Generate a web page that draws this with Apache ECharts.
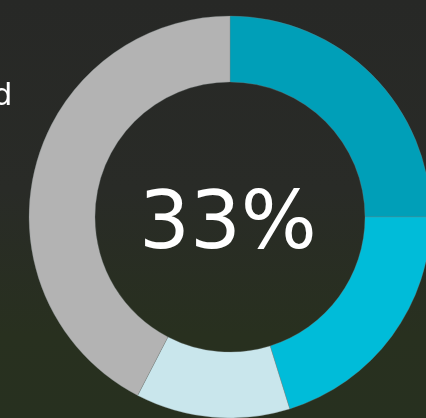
<!DOCTYPE html>
<html>
<head>
<meta charset="utf-8">
<script src="https://cdn.jsdelivr.net/npm/echarts@6/dist/echarts.min.js"></script>
<style>
  html, body { margin: 0; padding: 0; }
  #chart {
    width: 426px;
    height: 418px;
    background: linear-gradient(180deg, #272826 0%, #292b27 45%, #28301f 80%, #27301f 100%);
  }
</style>
</head>
<body>
<div id="chart"></div>
<script>
// donut segments, clockwise from 12 o'clock
var names = ['Done', 'In progress', 'Review', 'Remaining'];
var values = [25, 20.2, 12.4, 42.4];
var colors = ['#009fb8', '#00bcd9', '#c9e6ec', '#b3b3b3'];
var centerLabel = '33%';
var sideLabel = 'Completed';

var myChart = echarts.init(document.getElementById('chart'));

var option = {
  backgroundColor: 'transparent',
  animation: false,
  graphic: [
    {
      type: 'text',
      left: 139,
      top: 187,
      style: {
        text: centerLabel,
        fill: '#ffffff',
        font: '80px "DejaVu Sans"'
      }
    },
    {
      type: 'text',
      x: 12.5,
      y: 112,
      style: {
        text: sideLabel,
        fill: '#ffffff',
        font: '31px "DejaVu Sans"',
        textAlign: 'right',
        textVerticalAlign: 'bottom'
      }
    }
  ],
  series: [
    {
      type: 'pie',
      center: [230, 217],
      radius: [135, 201],
      startAngle: 90,
      clockwise: true,
      silent: true,
      label: { show: false },
      labelLine: { show: false },
      itemStyle: {
        borderColor: 'rgba(120,130,130,0.6)',
        borderWidth: 0.5
      },
      data: names.map(function (n, i) {
        return { name: n, value: values[i], itemStyle: { color: colors[i] } };
      })
    }
  ]
};

myChart.setOption(option);
</script>
</body>
</html>
